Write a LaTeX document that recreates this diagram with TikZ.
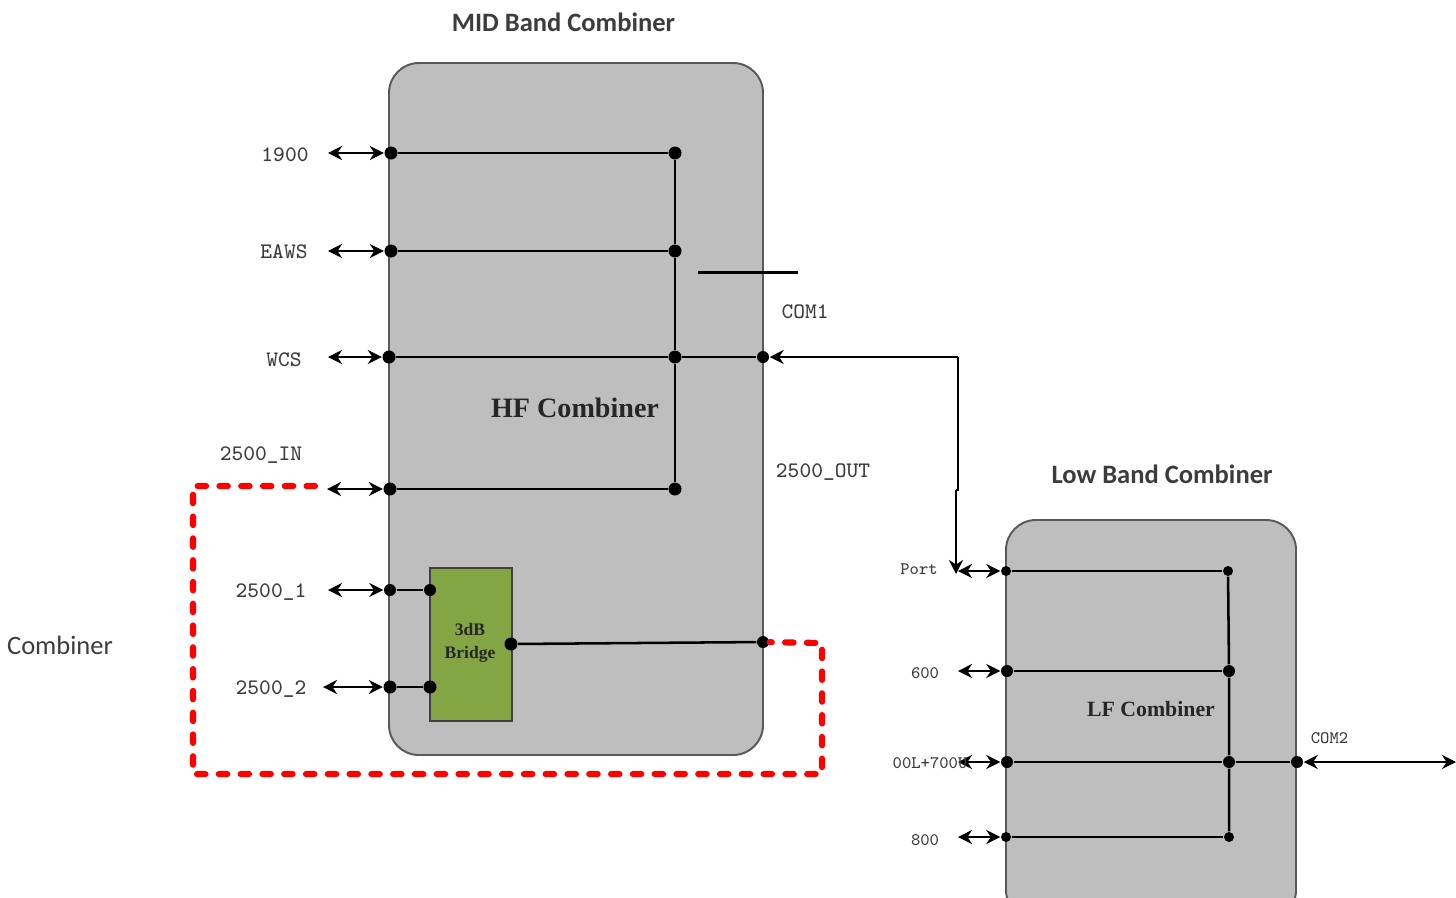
\documentclass[tikz,border=0pt]{standalone}
\usepackage{fontspec}
\newfontfamily\calfont{Carlito}
\newfontfamily\timesfont{Liberation Serif}
\usepackage{tikz}
\usetikzlibrary{arrows.meta}
\definecolor{panel}{HTML}{BEBEBE}
\definecolor{rim}{HTML}{595959}
\definecolor{bridge}{HTML}{84A544}
\definecolor{lbl}{HTML}{3C3C3C}
\tikzset{combox/.style={draw=rim,fill=panel,line width=.55pt,rounded corners=8.5pt,inner sep=0pt},
bridgebox/.style={draw=black!75,fill=bridge,line width=.6pt,inner sep=0pt,minimum width=.82cm,minimum height=1.53cm},
bigdot/.style={circle,fill=black,inner sep=0pt,minimum size=.13cm},
smalldot/.style={circle,fill=black,inner sep=0pt,minimum size=.1cm},
middot/.style={circle,fill=black,inner sep=0pt,minimum size=.12cm},
wire/.style={draw=black,line width=.72pt},
portarrow/.style={draw=black,line width=.7pt,{Stealth[length=.14cm,width=.14cm]}-{Stealth[length=.14cm,width=.14cm]}},
redloop/.style={draw=red,line width=1.75pt,line cap=round,dash pattern=on 2.4pt off 3.8pt},
portlabel/.style={font=\ttfamily\fontsize{6.3}{7}\selectfont,text=lbl,inner sep=0pt},
lowlabel/.style={font=\ttfamily\fontsize{5}{6}\selectfont,text=lbl,inner sep=0pt},
boxtitle/.style={font=\calfont\bfseries\fontsize{7.55}{9}\selectfont,text=lbl,inner sep=0pt},
innertitle/.style={font=\timesfont\bfseries\fontsize{8}{9}\selectfont,text=black!85,inner sep=0pt}}
\begin{document}
\begin{tikzpicture}
\useasboundingbox (0,0) rectangle (14.56,-8.97);
\clip (0,0) rectangle (14.56,-8.97);
% boxes
\node[combox,minimum width=3.74cm,minimum height=6.92cm] (midbox) at (5.76,-4.09) {};
\node[combox,minimum width=2.90cm,minimum height=4.00cm] (lowbox) at (11.51,-7.20) {};
\node[bridgebox] (bridgeblk) at (4.71,-6.445) {};
% titles
\node[boxtitle] (midtitle) at (5.635,-.225) {MID Band Combiner};
\node[boxtitle] (lowtitle) at (11.62,-4.74) {Low Band Combiner};
\node[font=\calfont\fontsize{7.55}{9}\selectfont,text=lbl,inner sep=0pt] (sidetitle) at (.60,-6.455) {Combiner};
\node[innertitle] (hftitle) at (5.75,-4.08) {HF Combiner};
\node[innertitle,font=\timesfont\bfseries\fontsize{6.2}{8}\selectfont] (lftitle) at (11.51,-7.09) {LF Combiner};
\node[font=\timesfont\bfseries\fontsize{5}{6.6}\selectfont,align=center,text=black!85,inner sep=0pt] (bridgetext) at (4.70,-6.43) {3dB\\Bridge};
% dots, mid band
\node[bigdot] (a1) at (3.91,-1.53) {};\node[bigdot] (b1) at (6.75,-1.53) {};
\node[bigdot] (a2) at (3.91,-2.51) {};\node[bigdot] (b2) at (6.75,-2.51) {};
\node[bigdot] (a3) at (3.89,-3.57) {};\node[bigdot] (b3) at (6.75,-3.57) {};
\node[middot] (com1) at (7.63,-3.57) {};
\node[bigdot] (a4) at (3.90,-4.89) {};\node[bigdot] (b4) at (6.75,-4.89) {};
\node[middot] (a5) at (3.90,-5.90) {};\node[middot] (g1) at (4.30,-5.90) {};
\node[bigdot] (a6) at (3.90,-6.87) {};\node[bigdot] (g2) at (4.30,-6.87) {};
\node[bigdot] (g3) at (5.11,-6.44) {};\node[middot] (out) at (7.63,-6.42) {};
% dots, low band
\node[smalldot] (c1) at (10.06,-5.71) {};\node[smalldot] (d1) at (12.28,-5.71) {};
\node[middot] (c2) at (10.07,-6.71) {};\node[middot] (d2) at (12.29,-6.71) {};
\node[middot] (c3) at (10.07,-7.62) {};\node[middot] (d3) at (12.29,-7.62) {};
\node[middot] (com2) at (12.97,-7.62) {};
\node[smalldot] (c4) at (10.06,-8.37) {};\node[smalldot] (d4) at (12.29,-8.37) {};
% free ends
\coordinate (p1) at (3.28,-1.53);\coordinate (p2) at (3.28,-2.51);\coordinate (p3) at (3.28,-3.57);
\coordinate (p4) at (3.27,-4.89);\coordinate (p5) at (3.28,-5.90);\coordinate (p6) at (3.23,-6.87);
\coordinate (q1) at (9.58,-5.71);\coordinate (q2) at (9.58,-6.71);\coordinate (q3) at (9.58,-7.62);
\coordinate (q4) at (9.58,-8.37);\coordinate (q5) at (14.56,-7.62);
\coordinate (s1) at (6.98,-2.725);\coordinate (s2) at (7.98,-2.725);
\coordinate (k1) at (9.58,-3.57);\coordinate (k2) at (9.58,-4.90);\coordinate (k3) at (9.56,-4.90);\coordinate (k4) at (9.56,-5.74);
\coordinate (r1) at (3.15,-4.86);\coordinate (r2) at (1.93,-4.86);\coordinate (r3) at (1.93,-7.74);\coordinate (r4) at (8.22,-7.74);\coordinate (r5) at (8.22,-6.43);
% wires
\draw[wire] (a1)--(b1);\draw[wire] (a2)--(b2);\draw[wire] (a3)--(b3)--(com1);\draw[wire] (a4)--(b4);
\draw[wire] (b1)--(b2)--(b3)--(b4);
\draw[wire] (a5)--(g1);\draw[wire] (a6)--(g2);\draw[wire] (g3)--(out);
\draw[wire] (c1)--(d1);\draw[wire] (c2)--(d2);\draw[wire] (c3)--(d3)--(com2);\draw[wire] (c4)--(d4);
\draw[wire] (d1)--(d2)--(d3)--(d4);
\draw[wire,line width=.6pt] (s1)--(s2);
% arrows
\foreach \p/\d in {p1/a1,p2/a2,p3/a3,p4/a4,p5/a5,p6/a6,q1/c1,q2/c2,q3/c3,q4/c4,q5/com2}
  \draw[portarrow] (\p)--(\d);
\draw[wire,line width=.6pt,-{Stealth[length=.14cm,width=.14cm]}] (k1)--(com1);
\draw[wire,line width=.6pt] (k1)--(k2)--(k3);
\draw[wire,line width=.6pt,-{Stealth[length=.14cm,width=.14cm]}] (k3)--(k4);
\draw[redloop] (r1)--(r2)--(r3)--(r4)--(r5)--(out);
% labels
\node[portlabel] (l1) at (2.85,-1.55) {1900};
\node[portlabel] (l2) at (2.84,-2.52) {EAWS};
\node[portlabel] (l3) at (2.84,-3.60) {WCS};
\node[portlabel] (l4) at (2.61,-4.55) {2500\_IN};
\node[portlabel] (l5) at (2.71,-5.92) {2500\_1};
\node[portlabel] (l6) at (2.71,-6.89) {2500\_2};
\node[portlabel] (l7) at (8.05,-3.115) {COM1};
\node[portlabel] (l8) at (8.23,-4.72) {2500\_OUT};
\node[lowlabel] (m1) at (9.19,-5.695) {Port};
\node[lowlabel] (m2) at (9.25,-6.73) {600};
\node[lowlabel] (m3) at (9.30,-7.635) {00L+700U};
\node[lowlabel] (m4) at (9.25,-8.40) {800};
\node[lowlabel] (m5) at (13.295,-7.385) {COM2};
\end{tikzpicture}
\end{document}
